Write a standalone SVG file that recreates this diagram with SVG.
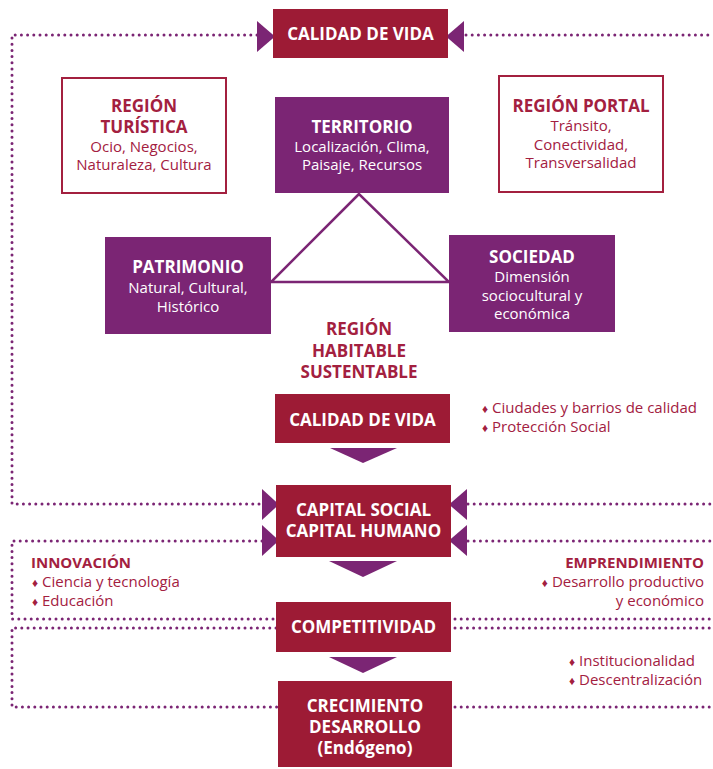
<svg xmlns="http://www.w3.org/2000/svg" width="713" height="769" viewBox="0 0 713 769">
<style>
.bg{fill:#ffffff}
.red{fill:#9d1b35}
.pur{fill:#7b2574}
.out{fill:#ffffff;stroke:#a3203f;stroke-width:2}
.dot{fill:none;stroke:#7b2574;stroke-width:3;stroke-linecap:round;stroke-dasharray:0 6.2}
.tri{fill:none;stroke:#7b2574;stroke-width:2.5;stroke-linejoin:miter}
.arr{fill:#7b2574}
text{font-family:"Open Sans","Liberation Sans",sans-serif}
.tw{fill:#ffffff;font-weight:700;font-size:17px;text-anchor:middle}
.bw{fill:#ffffff;font-size:15px;text-anchor:middle}
.tr{fill:#a3203f;font-weight:700;font-size:17px;text-anchor:middle}
.br{fill:#a3203f;font-size:15px;text-anchor:middle}
.lb{fill:#a3203f;font-size:15px}
.lh{fill:#a3203f;font-weight:700;font-size:15px}
.dm{font-size:12px}
</style>
<rect class="bg" x="0" y="0" width="713" height="769"/>

<g id="connectors">
  <polyline class="dot" points="257,35 12,35 12,504 262,504"/>
  <line class="dot" x1="466" y1="35" x2="713" y2="35"/>
  <line class="dot" x1="468" y1="504" x2="713" y2="504"/>
  <polyline class="dot" points="262,541 12,541 12,619 276,619"/>
  <line class="dot" x1="468" y1="541" x2="713" y2="541"/>
  <line class="dot" x1="455" y1="619" x2="713" y2="619"/>
  <polyline class="dot" points="276,628 12,628 12,707 278,707"/>
  <line class="dot" x1="455" y1="628" x2="713" y2="628"/>
  <line class="dot" x1="455" y1="707" x2="713" y2="707"/>
  <polygon class="tri" points="359,194 271,282 449,282"/>
  <polygon class="arr" points="257,21 257,52 275,36.5"/>
  <polygon class="arr" points="464,21 464,52 446,36.5"/>
  <polygon class="arr" points="262,489 262,520 279,504.5"/>
  <polygon class="arr" points="262,525 262,556 279,540.5"/>
  <polygon class="arr" points="467,489 467,520 449,504.5"/>
  <polygon class="arr" points="467,525 467,556 449,540.5"/>
  <polygon class="arr" points="330,448 397,448 363,463"/>
  <polygon class="arr" points="329,561 397,561 363,577"/>
  <polygon class="arr" points="329,657 397,657 363,673"/>
</g>

<g id="calidad-top">
  <rect class="red" x="273" y="9" width="175" height="49"/>
  <text class="tw" x="360.5" y="40">CALIDAD DE VIDA</text>
</g>

<g id="region-turistica">
  <rect class="out" x="62" y="78" width="164" height="115"/>
  <text class="tr" x="144" y="112">REGIÓN</text>
  <text class="tr" x="144" y="133">TURÍSTICA</text>
  <text class="br" x="144" y="152">Ocio, Negocios,</text>
  <text class="br" x="144" y="170">Naturaleza, Cultura</text>
</g>

<g id="territorio">
  <rect class="pur" x="275" y="97" width="174" height="96"/>
  <text class="tw" x="362" y="133">TERRITORIO</text>
  <text class="bw" x="362" y="152">Localización, Clima,</text>
  <text class="bw" x="362" y="170">Paisaje, Recursos</text>
</g>

<g id="region-portal">
  <rect class="out" x="499" y="76" width="164" height="116"/>
  <text class="tr" x="581" y="112">REGIÓN PORTAL</text>
  <text class="br" x="581" y="131">Tránsito,</text>
  <text class="br" x="581" y="150">Conectividad,</text>
  <text class="br" x="581" y="168">Transversalidad</text>
</g>

<g id="patrimonio">
  <rect class="pur" x="105" y="237" width="166" height="97"/>
  <text class="tw" x="188" y="273">PATRIMONIO</text>
  <text class="bw" x="188" y="293">Natural, Cultural,</text>
  <text class="bw" x="188" y="312">Histórico</text>
</g>

<g id="sociedad">
  <rect class="pur" x="449" y="235" width="166" height="97"/>
  <text class="tw" x="532" y="263">SOCIEDAD</text>
  <text class="bw" x="532" y="282">Dimensión</text>
  <text class="bw" x="532" y="301">sociocultural y</text>
  <text class="bw" x="532" y="319">económica</text>
</g>

<g id="region-habitable">
  <text class="tr" x="359" y="335">REGIÓN</text>
  <text class="tr" x="359" y="357">HABITABLE</text>
  <text class="tr" x="359" y="378">SUSTENTABLE</text>
</g>

<g id="calidad-vida">
  <rect class="red" x="275" y="394" width="175" height="49"/>
  <text class="tw" x="362.5" y="426">CALIDAD DE VIDA</text>
</g>

<g id="calidad-notes">
  <text class="lb" x="482" y="413"><tspan class="dm">♦</tspan> Ciudades y barrios de calidad</text>
  <text class="lb" x="482" y="432"><tspan class="dm">♦</tspan> Protección Social</text>
</g>

<g id="capital">
  <rect class="red" x="276" y="485" width="175" height="72"/>
  <text class="tw" x="363.5" y="516">CAPITAL SOCIAL</text>
  <text class="tw" x="363.5" y="537">CAPITAL HUMANO</text>
</g>

<g id="innovacion">
  <text class="lh" x="31" y="568">INNOVACIÓN</text>
  <text class="lb" x="32" y="587"><tspan class="dm">♦</tspan> Ciencia y tecnología</text>
  <text class="lb" x="32" y="606"><tspan class="dm">♦</tspan> Educación</text>
</g>

<g id="emprendimiento">
  <text class="lh" x="704" y="568" text-anchor="end">EMPRENDIMIENTO</text>
  <text class="lb" x="704" y="587" text-anchor="end"><tspan class="dm">♦</tspan> Desarrollo productivo</text>
  <text class="lb" x="704" y="606" text-anchor="end">y económico</text>
</g>

<g id="competitividad">
  <rect class="red" x="276" y="602" width="175" height="50"/>
  <text class="tw" x="363.5" y="633">COMPETITIVIDAD</text>
</g>

<g id="institucional-notes">
  <text class="lb" x="569" y="666"><tspan class="dm">♦</tspan> Institucionalidad</text>
  <text class="lb" x="569" y="685"><tspan class="dm">♦</tspan> Descentralización</text>
</g>

<g id="crecimiento">
  <rect class="red" x="278" y="681" width="174" height="86"/>
  <text class="tw" x="365" y="712">CRECIMIENTO</text>
  <text class="tw" x="365" y="733">DESARROLLO</text>
  <text class="tw" x="365" y="754">(Endógeno)</text>
</g>
</svg>
